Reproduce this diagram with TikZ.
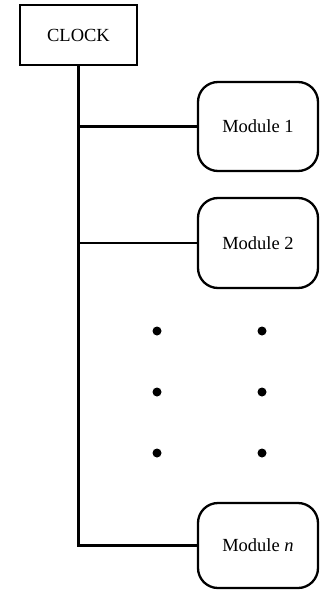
\documentclass[tikz,border=0pt]{standalone}
\usepackage{fontspec}
\setmainfont{Liberation Serif}
\begin{document}
\begin{tikzpicture}[x=1pt,y=-1pt,
  line width=2.3pt,
  clockbox/.style={draw, minimum width=117pt, minimum height=60pt, inner sep=0pt, font=\fontsize{18.5}{22}\selectfont},
  modbox/.style={draw, rounded corners=20pt, minimum width=120pt, inner sep=0pt, font=\fontsize{18.5}{22}\selectfont},
  bigdot/.style={fill, circle, inner sep=0pt, minimum size=9pt}]
\useasboundingbox (0,0) rectangle (320,591);
\node[clockbox] (clock) at (78.5,35) {CLOCK};
\node[modbox, minimum height=89pt] (m1) at (258,126.5) {Module 1};
\node[modbox, minimum height=90pt] (m2) at (258,243) {Module 2};
\node[modbox, minimum height=85pt] (mn) at (258,545.5) {Module \textit{n}};
\draw (clock.south) |- (mn.west);
\draw (clock.south |- m1.west) -- (m1.west);
\draw (clock.south |- m2.west) -- (m2.west);
\foreach \r/\yy in {1/331,2/392,3/453}{
  \node[bigdot] (dl\r) at (157,\yy) {};
  \node[bigdot] (dr\r) at (262,\yy) {};
}
\end{tikzpicture}
\end{document}
